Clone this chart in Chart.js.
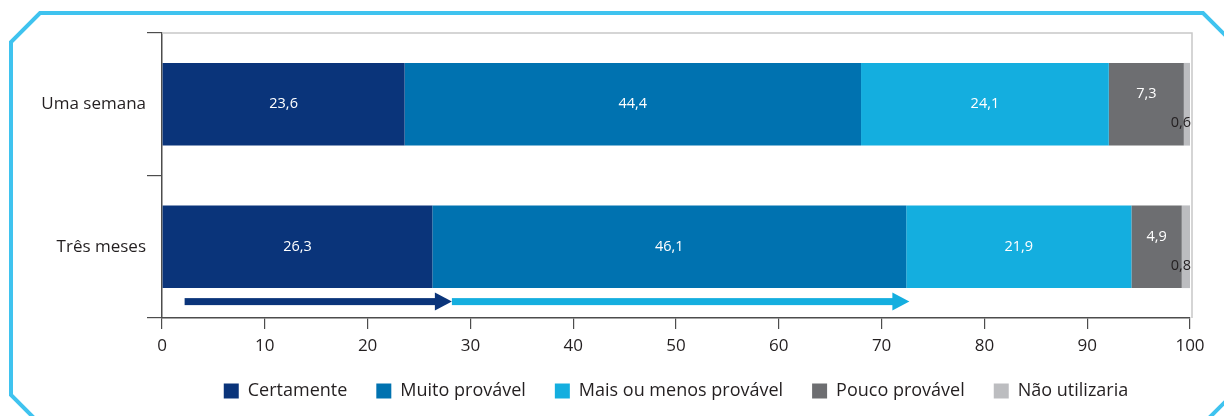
<!DOCTYPE html>
<html>
<head>
<meta charset="utf-8">
<script src="https://cdn.jsdelivr.net/npm/chart.js@4/dist/chart.umd.min.js"></script>
<style>
  html, body { margin: 0; padding: 0; background: #fff; }
  #wrap { width: 1224px; height: 416px; position: relative; }
</style>
</head>
<body>
<div id="wrap"><canvas id="chart"></canvas></div>
<script>
const categories = ['Uma semana', 'Três meses']
const seriesNames = ['Certamente', 'Muito provável', 'Mais ou menos provável', 'Pouco provável', 'Não utilizaria']
const certamente = [23.6, 26.3]
const muitoProvavel = [44.4, 46.1]
const maisOuMenos = [24.1, 21.9]
const poucoProvavel = [7.3, 4.9]
const naoUtilizaria = [0.6, 0.8]
const xTicks = [0, 10, 20, 30, 40, 50, 60, 70, 80, 90, 100]
// arrows under the "Três meses" bar (start / end values on the x axis)
const arrowFrom = [2.2, 28.2]
const arrowTo = [28.2, 72.7]

const colors = ['#0a347a', '#0072b0', '#14aedf', '#6d6e71', '#bcbdc0']
const arrowColors = ['#0a347a', '#14aedf']
const FONT = '"Open Sans", "Noto Sans", sans-serif'
const TEXT = '#231f20'

const fmt = v => v.toFixed(1).replace('.', ',')

// octagonal light blue frame + plot outline
const frame = {
  id: 'frame',
  beforeDraw(chart) {
    const { ctx, width, height } = chart
    ctx.save()
    ctx.fillStyle = '#fff'
    ctx.fillRect(0, 0, width, height)
    ctx.strokeStyle = '#3fc3ef'
    ctx.lineWidth = 4
    const l = 11, t = 13, r = 1232, b = 424, c = 29
    ctx.beginPath()
    ctx.moveTo(l + c, t)
    ctx.lineTo(r - c, t)
    ctx.lineTo(r, t + c)
    ctx.lineTo(r, b - c)
    ctx.lineTo(r - c, b)
    ctx.lineTo(l + c, b)
    ctx.lineTo(l, b - c)
    ctx.lineTo(l, t + c)
    ctx.closePath()
    ctx.stroke()
    ctx.restore()
  },
  beforeDatasetsDraw(chart) {
    const { ctx, chartArea: a } = chart
    ctx.save()
    ctx.strokeStyle = '#c8c8c8'
    ctx.lineWidth = 1.5
    ctx.beginPath()
    ctx.moveTo(a.left, a.top)
    ctx.lineTo(a.right + 2, a.top)
    ctx.lineTo(a.right + 2, a.bottom)
    ctx.stroke()
    ctx.restore()
  },
}

const barLabels = {
  id: 'barLabels',
  afterDatasetsDraw(chart) {
    const ctx = chart.ctx
    ctx.save()
    ctx.font = '14.5px ' + FONT
    ctx.textBaseline = 'middle'
    chart.data.datasets.forEach((ds, di) => {
      const meta = chart.getDatasetMeta(di)
      meta.data.forEach((bar, i) => {
        const txt = fmt(ds.data[i])
        if (di === 4) {
          ctx.fillStyle = TEXT
          ctx.textAlign = 'right'
          ctx.fillText(txt, bar.x + 1, bar.y + 19)
        } else {
          ctx.fillStyle = '#fff'
          ctx.textAlign = 'center'
          ctx.fillText(txt, (bar.x + bar.base) / 2, bar.y + (di === 3 ? -10 : 0))
        }
      })
    })
    ctx.restore()
  },
}

const arrows = {
  id: 'arrows',
  afterDatasetsDraw(chart) {
    const { ctx, scales: { x, y } } = chart
    const step = y.getPixelForValue(1) - y.getPixelForValue(0)
    const yy = y.getPixelForValue(1) + step * 0.385
    ctx.save()
    arrowFrom.forEach((from, i) => {
      const x0 = x.getPixelForValue(from)
      const x1 = x.getPixelForValue(arrowTo[i])
      const head = 17
      ctx.fillStyle = arrowColors[i]
      ctx.fillRect(x0, yy - 3.5, x1 - head - x0 + 1, 7)
      ctx.beginPath()
      ctx.moveTo(x1 - head, yy - 9)
      ctx.lineTo(x1, yy)
      ctx.lineTo(x1 - head, yy + 9)
      ctx.closePath()
      ctx.fill()
    })
    ctx.restore()
  },
}

const data = {
  labels: categories,
  datasets: [certamente, muitoProvavel, maisOuMenos, poucoProvavel, naoUtilizaria].map((values, i) => ({
    label: seriesNames[i],
    data: values,
    backgroundColor: colors[i],
    borderWidth: 0,
    categoryPercentage: 1,
    barPercentage: 0.58,
  })),
}

const config = {
  type: 'bar',
  data,
  plugins: [frame, barLabels, arrows],
  options: {
    indexAxis: 'y',
    responsive: true,
    maintainAspectRatio: false,
    animation: false,
    layout: { padding: { left: 0, top: 33, right: 34, bottom: 6 } },
    scales: {
      x: {
        stacked: true,
        min: 0,
        max: 100,
        afterBuildTicks: s => { s.ticks = xTicks.map(v => ({ value: v })) },
        afterFit: s => { s.height = 35 },
        border: { color: '#4d4d4d', width: 1.5 },
        grid: { drawOnChartArea: false, tickLength: 11, color: '#4d4d4d', lineWidth: 1.2 },
        ticks: { color: TEXT, font: { family: FONT, size: 17 }, padding: 7, maxRotation: 0 },
      },
      y: {
        stacked: true,
        afterFit: s => { s.width = 162 },
        border: { color: '#4d4d4d', width: 1.5 },
        grid: { drawOnChartArea: false, offset: true, tickLength: 15, color: '#4d4d4d', lineWidth: 1.2 },
        ticks: { color: TEXT, font: { family: FONT, size: 17 }, padding: 1 },
      },
    },
    plugins: {
      tooltip: { enabled: false },
      legend: {
        position: 'bottom',
        fullSize: false,
        labels: {
          color: TEXT,
          font: { family: FONT, size: 18 },
          boxWidth: 15,
          boxHeight: 15,
          padding: 29,
        },
      },
    },
  },
}

new Chart(document.getElementById('chart'), config)
</script>
</body>
</html>
